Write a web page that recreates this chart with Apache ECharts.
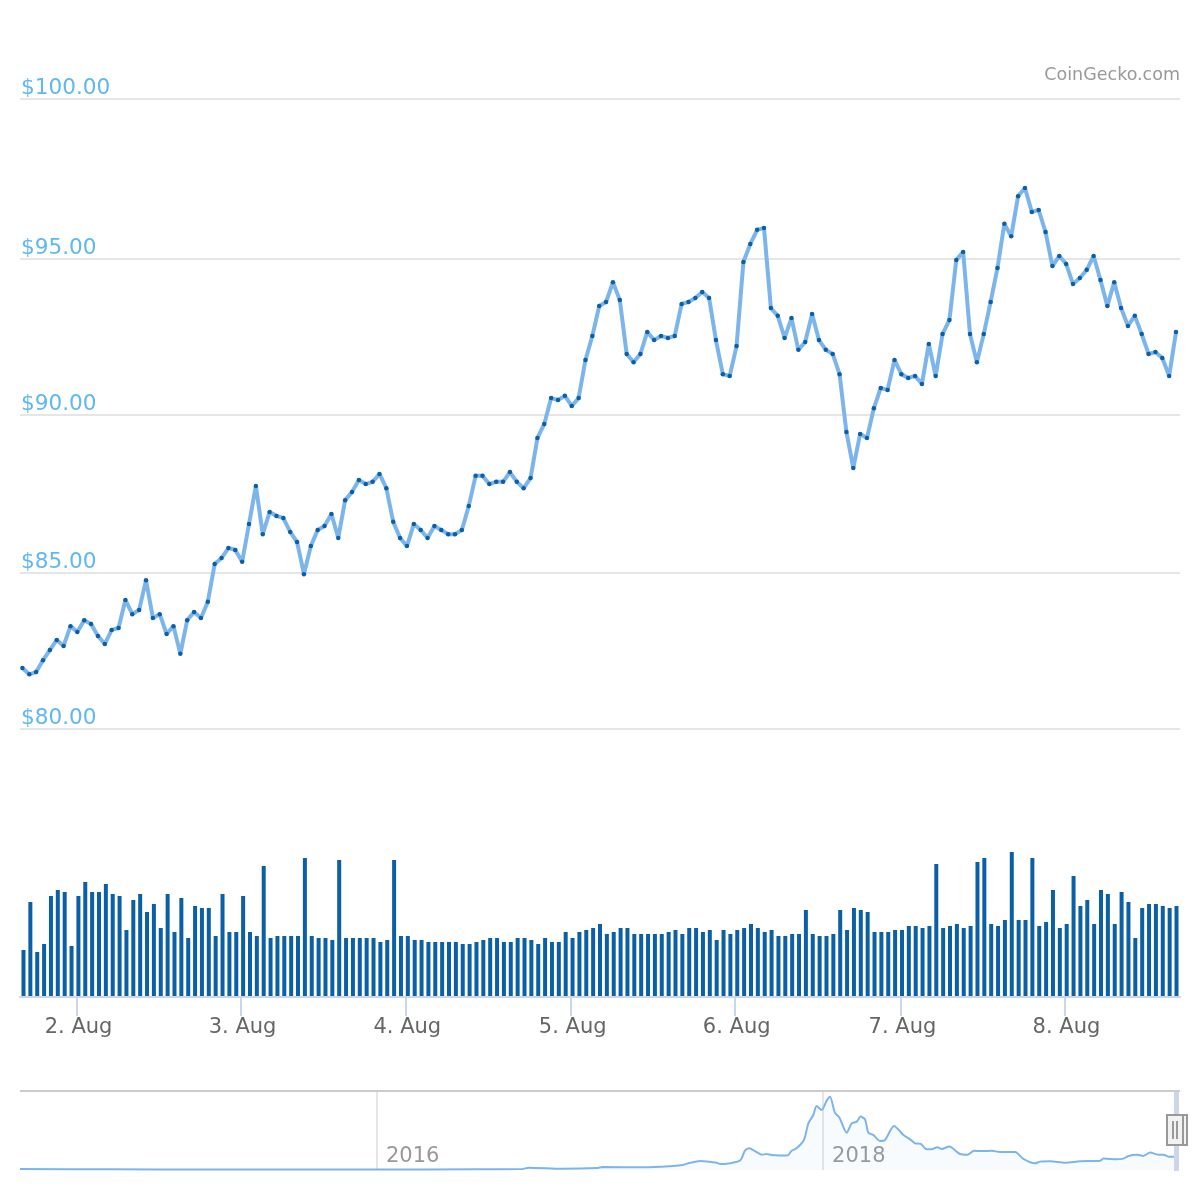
<!DOCTYPE html>
<html>
<head>
<meta charset="utf-8">
<title>CoinGecko price chart</title>
<script src="https://cdn.jsdelivr.net/npm/echarts@6/dist/echarts.min.js"></script>
<style>
  html, body { margin: 0; padding: 0; background: #fff; }
  #chart { width: 1200px; height: 1200px; }
</style>
</head>
<body>
<div id="chart"></div>
<script>
// hourly price, first point is 1. Aug 16:00
const prices = [
  81.92, 81.72, 81.79, 82.17, 82.49, 82.81, 82.62, 83.25, 83.06, 83.44, 83.32, 82.94, 82.68, 83.13, 83.19, 84.08,
  83.63, 83.76, 84.71, 83.51, 83.63, 83.00, 83.25, 82.37, 83.44, 83.70, 83.51, 84.02, 85.22, 85.41, 85.73, 85.67,
  85.29, 86.49, 87.70, 86.17, 86.87, 86.75, 86.68, 86.24, 85.92, 84.90, 85.79, 86.30, 86.43, 86.81, 86.05, 87.25,
  87.51, 87.89, 87.76, 87.83, 88.08, 87.63, 86.56, 86.05, 85.79, 86.49, 86.30, 86.05, 86.43, 86.30, 86.17, 86.17,
  86.30, 87.06, 88.02, 88.02, 87.76, 87.83, 87.83, 88.14, 87.83, 87.63, 87.95, 89.22, 89.67, 90.49, 90.43, 90.56,
  90.24, 90.49, 91.70, 92.46, 93.41, 93.54, 94.17, 93.60, 91.89, 91.63, 91.89, 92.59, 92.33, 92.46, 92.40, 92.46,
  93.48, 93.54, 93.67, 93.86, 93.67, 92.33, 91.25, 91.19, 92.14, 94.81, 95.38, 95.83, 95.89, 93.35, 93.10, 92.40,
  93.03, 92.02, 92.27, 93.16, 92.33, 92.02, 91.89, 91.25, 89.41, 88.27, 89.35, 89.22, 90.17, 90.81, 90.75, 91.70,
  91.25, 91.13, 91.19, 90.94, 92.21, 91.19, 92.52, 92.97, 94.87, 95.13, 92.52, 91.63, 92.52, 93.54, 94.62, 96.02,
  95.63, 96.90, 97.16, 96.40, 96.46, 95.76, 94.68, 95.00, 94.75, 94.11, 94.30, 94.56, 95.00, 94.24, 93.41, 94.17,
  93.35, 92.78, 93.10, 92.52, 91.89, 91.95, 91.76, 91.19, 92.59
];

// hourly volume, the picture has no scale for it so the unit is arbitrary
const volumes = [
  46, 94, 44, 52, 100, 106, 104, 50, 100, 114, 104, 104, 112, 102, 100, 66,
  96, 102, 84, 92, 68, 102, 64, 98, 58, 90, 88, 88, 60, 102, 64, 64,
  100, 64, 60, 130, 58, 60, 60, 60, 60, 138, 60, 58, 58, 56, 136, 58,
  58, 58, 58, 58, 54, 56, 136, 60, 60, 56, 56, 54, 54, 54, 54, 54,
  52, 52, 54, 56, 58, 58, 54, 54, 58, 58, 56, 52, 58, 54, 54, 64,
  58, 64, 66, 68, 72, 62, 64, 68, 68, 62, 62, 62, 62, 62, 64, 66,
  62, 68, 68, 64, 66, 56, 66, 62, 66, 68, 72, 68, 64, 66, 60, 60,
  62, 62, 86, 62, 60, 60, 62, 86, 66, 88, 86, 84, 64, 64, 64, 66,
  66, 70, 70, 68, 70, 132, 68, 70, 72, 68, 70, 134, 138, 72, 70, 76,
  144, 76, 76, 138, 70, 74, 106, 68, 72, 120, 90, 96, 72, 106, 102, 72,
  104, 94, 58, 88, 92, 92, 90, 88, 90
];

// midnights, counted in points: the samples come a few minutes after the hour
const dayTicks = [7.8, 31.7, 55.7, 79.8, 103.7, 127.85, 151.75];
const dayLabels = ["2. Aug", "3. Aug", "4. Aug", "5. Aug", "6. Aug", "7. Aug", "8. Aug"];

// price gridlines where the picture has them
const priceTicks = [80, 84.95, 89.96, 94.91, 100];
const priceLabels = ["$80.00", "$85.00", "$90.00", "$95.00", "$100.00"];

// navigator, whole history
const navYears = [
  2014.4, 2014.8, 2015.25, 2016, 2016.46, 2016.65, 2016.68, 2016.83, 2016.99, 2017.01, 2017.19, 2017.31, 2017.37, 2017.4,
  2017.448, 2017.523, 2017.538, 2017.627, 2017.65, 2017.669, 2017.695, 2017.725, 2017.747, 2017.769, 2017.84, 2017.859,
  2017.881, 2017.914, 2017.934, 2017.956, 2017.971, 2017.994, 2018.016, 2018.031, 2018.053, 2018.073, 2018.106, 2018.128,
  2018.151, 2018.168, 2018.188, 2018.203, 2018.225, 2018.255, 2018.278, 2018.318, 2018.36, 2018.39, 2018.412, 2018.438,
  2018.464, 2018.487, 2018.512, 2018.532, 2018.566, 2018.614, 2018.647, 2018.677, 2018.711, 2018.756, 2018.793, 2018.861,
  2018.898, 2018.95, 2018.973, 2019.018, 2019.085, 2019.152, 2019.242, 2019.257, 2019.316, 2019.346, 2019.369, 2019.406,
  2019.436, 2019.466, 2019.503, 2019.526, 2019.548, 2019.585
];
const navValues = [
  6, 4, 3, 3, 5, 6, 15, 8, 13, 19, 17, 23, 32, 44,
  57, 46, 38, 59, 122, 137, 120, 97, 101, 95, 91, 122,
  137, 190, 295, 348, 405, 380, 439, 464, 363, 333, 236, 295,
  306, 338, 321, 236, 222, 184, 190, 279, 222, 194, 169, 165,
  131, 131, 144, 133, 148, 101, 97, 122, 120, 122, 114, 114,
  70, 42, 53, 55, 46, 55, 59, 72, 68, 72, 89, 97,
  89, 110, 97, 97, 84, 84
];
const navYearTicks = [2016, 2018];

const FONT = "DejaVu Sans";
const LINE_BLUE = "#7cb5ec";
const DARK_BLUE = "#0b5fa6";
const AXIS_BLUE = "#ccd6eb";

const myChart = echarts.init(document.getElementById("chart"), null, { renderer: "canvas" });

const option = {
  animation: false,
  backgroundColor: "#fff",
  title: {
    text: "CoinGecko.com",
    right: 20,
    top: 66,
    padding: 0,
    textStyle: { fontFamily: FONT, fontSize: 17.5, fontWeight: "normal", color: "#999" }
  },
  grid: [
    { left: 20, width: 1160, top: 98.5, height: 630 },
    { left: 20, width: 1160, top: 846, height: 150 },
    { left: 20, width: 1160, top: 1091, height: 79 }
  ],
  xAxis: [
    {
      type: "value",
      gridIndex: 0,
      min: -0.35,
      max: 168.58,
      axisLine: { show: false },
      axisTick: { show: false },
      axisLabel: { show: false },
      splitLine: { show: false }
    },
    {
      type: "value",
      gridIndex: 1,
      min: -0.51,
      max: 168.51,
      offset: 1,
      axisLine: { show: true, onZero: false, lineStyle: { color: AXIS_BLUE, width: 2 } },
      axisTick: { show: true, customValues: dayTicks, length: 19, lineStyle: { color: AXIS_BLUE, width: 2 } },
      axisLabel: {
        customValues: dayTicks,
        margin: 20,
        padding: [0, 0, 0, 3],
        fontFamily: FONT,
        fontSize: 21,
        color: "#666",
        formatter: (v) => dayLabels[dayTicks.indexOf(v)]
      },
      splitLine: { show: false }
    },
    {
      type: "value",
      gridIndex: 2,
      min: 2014.4,
      max: 2019.6,
      axisLine: { show: false },
      axisTick: { show: false, customValues: navYearTicks },
      axisLabel: {
        customValues: navYearTicks,
        inside: true,
        margin: 3,
        align: "left",
        verticalAlign: "bottom",
        padding: [0, 0, 0, 9],
        fontFamily: FONT,
        fontSize: 21,
        color: "#999",
        formatter: (v) => String(v)
      },
      splitLine: { show: true, lineStyle: { color: "#e6e6e6", width: 2 } }
    }
  ],
  yAxis: [
    {
      type: "value",
      gridIndex: 0,
      min: 80,
      max: 100,
      axisLine: { show: false },
      axisTick: { show: false, customValues: priceTicks },
      axisLabel: {
        customValues: priceTicks,
        inside: true,
        margin: 1,
        verticalAlign: "bottom",
        lineHeight: 20,
        fontFamily: FONT,
        fontSize: 21.6,
        color: "#5fb8ee",
        formatter: (v) => priceLabels[priceTicks.indexOf(v)]
      },
      splitLine: { show: true, lineStyle: { color: "#e6e6e6", width: 2 } }
    },
    { type: "value", gridIndex: 1, min: 0, max: 150, show: false },
    { type: "value", gridIndex: 2, min: 0, max: 500, show: false }
  ],
  series: [
    {
      name: "Price",
      type: "line",
      xAxisIndex: 0,
      yAxisIndex: 0,
      data: prices.map((p, i) => [i, p]),
      showSymbol: true,
      showAllSymbol: true,
      symbol: "circle",
      symbolSize: 4.5,
      itemStyle: { color: DARK_BLUE },
      lineStyle: { color: LINE_BLUE, width: 4 }
    },
    {
      name: "Volume",
      type: "bar",
      xAxisIndex: 1,
      yAxisIndex: 1,
      data: volumes.map((v, i) => [i, v]),
      barWidth: 4,
      itemStyle: { color: DARK_BLUE }
    },
    {
      name: "History",
      type: "line",
      xAxisIndex: 2,
      yAxisIndex: 2,
      data: navYears.map((y, i) => [y, navValues[i]]),
      showSymbol: false,
      smooth: 0.25,
      lineStyle: { color: LINE_BLUE, width: 2 },
      // see-through so the 2018 gridline and label stay visible
      areaStyle: { color: "rgba(124,181,236,0.08)" }
    }
  ],
  // navigator frame and the handle at its right end
  graphic: [
    { type: "rect", z: 10, shape: { x: 20, y: 1090, width: 1160, height: 2 }, style: { fill: "#ccc" } },
    { type: "rect", z: 10, shape: { x: 1174, y: 1092, width: 5, height: 79 }, style: { fill: AXIS_BLUE } },
    { type: "rect", z: 11, shape: { x: 1183, y: 1115, width: 4, height: 30 }, style: { fill: "#f2f2f2", stroke: "#999", lineWidth: 2 } },
    { type: "rect", z: 12, shape: { x: 1167, y: 1115, width: 16, height: 30 }, style: { fill: "#f2f2f2", stroke: "#999", lineWidth: 2 } },
    { type: "rect", z: 13, shape: { x: 1172, y: 1121, width: 2, height: 18 }, style: { fill: "#999" } },
    { type: "rect", z: 13, shape: { x: 1176, y: 1121, width: 2, height: 18 }, style: { fill: "#999" } }
  ]
};

myChart.setOption(option);
</script>
</body>
</html>
